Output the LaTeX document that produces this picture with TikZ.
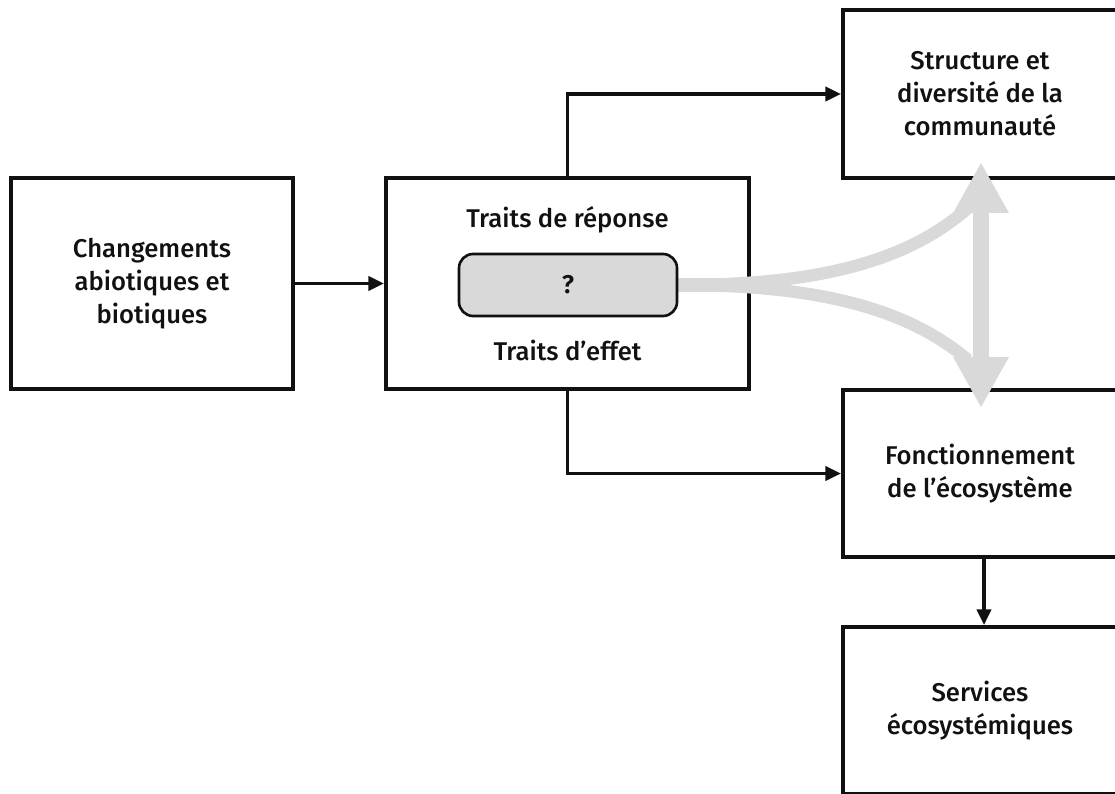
\documentclass[tikz,border=0pt]{standalone}
\usepackage{fontspec}
\setmainfont{Fira Sans}[UprightFont=* Medium, BoldFont=* SemiBold, Ligatures=NoCommon]
\usetikzlibrary{arrows.meta}
\definecolor{arrowgray}{HTML}{D9D9D9}
\definecolor{ink}{HTML}{111111}
\tikzset{
  box/.style={draw=ink, line width=2.1pt, inner sep=0pt, align=center, text=ink,
    font=\fontsize{14.6}{18.8}\selectfont},
  lbl/.style={text=ink, align=center, inner sep=0pt, font=\fontsize{14.6}{18.8}\selectfont},
  flow/.style={draw=ink, line width=2.2pt, -{Triangle[length=9pt,width=8pt]}},
  grayline/.style={draw=arrowgray, line width=7pt},
  grayarrow/.style={draw=arrowgray, line width=9.6pt,
    {Triangle[length=29pt,width=29.5pt]}-{Triangle[length=29pt,width=29.5pt]}}
}
\begin{document}
\begin{tikzpicture}[x=0.02cm,y=-0.02cm]
\clip (0,0) rectangle (1115,794);
\useasboundingbox (0,0) rectangle (1115,794);
% boxes
\node[box, minimum width=282*0.02cm, minimum height=211*0.02cm] (A) at (152,283.5)
  {Changements\\abiotiques et\\biotiques};
\node[box, minimum width=363*0.02cm, minimum height=211*0.02cm] (B) at (567.5,283.5) {};
\node[box, minimum width=274*0.02cm, minimum height=168*0.02cm] (C) at (980,94)
  {Structure et\\diversité de la\\communauté};
\node[box, minimum width=274*0.02cm, minimum height=167*0.02cm] (D) at (980,473.5)
  {Fonctionnement\\de l’écosystème};
\node[box, minimum width=274*0.02cm, minimum height=167*0.02cm] (E) at (980,710.5)
  {Services\\écosystémiques};
% inner content of B
\node[lbl] (R) at (567.5,220) {Traits de réponse};
\node[lbl] (F) at (567.5,350) {Traits d’effet};
% gray connectors (behind the inner box)
\coordinate (up) at (968,208);
\coordinate (dn) at (968,360);
\coordinate (topTip) at (981,162);
\coordinate (botTip) at (981,408);
\node[draw=none, minimum width=218*0.02cm, minimum height=62*0.02cm] (Qpos) at (568,285) {};
\draw[grayline, line width=8.5pt] (Qpos.east) -- ++(40,0);
\draw[grayline] (Qpos.east) .. controls (800,285) and (900,268) .. (up);
\draw[grayline] (Qpos.east) .. controls (800,285) and (900,302) .. (dn);
\draw[grayarrow] (botTip) -- (topTip);
\node[box, fill=arrowgray, rounded corners=8pt, minimum width=218*0.02cm, minimum height=62*0.02cm,
  line width=1.5pt, font=\fontsize{14.6}{18.8}\selectfont\bfseries] (Q) at (568,285) {?};
% black connectors
\draw[flow] (A.east) -- (B.west);
\draw[flow] (B.north) |- (C.west);
\draw[flow] (B.south) |- (D.west);
\draw[flow] ([xshift=4*0.02cm]D.south) -- ([xshift=4*0.02cm]E.north);
\end{tikzpicture}
\end{document}
